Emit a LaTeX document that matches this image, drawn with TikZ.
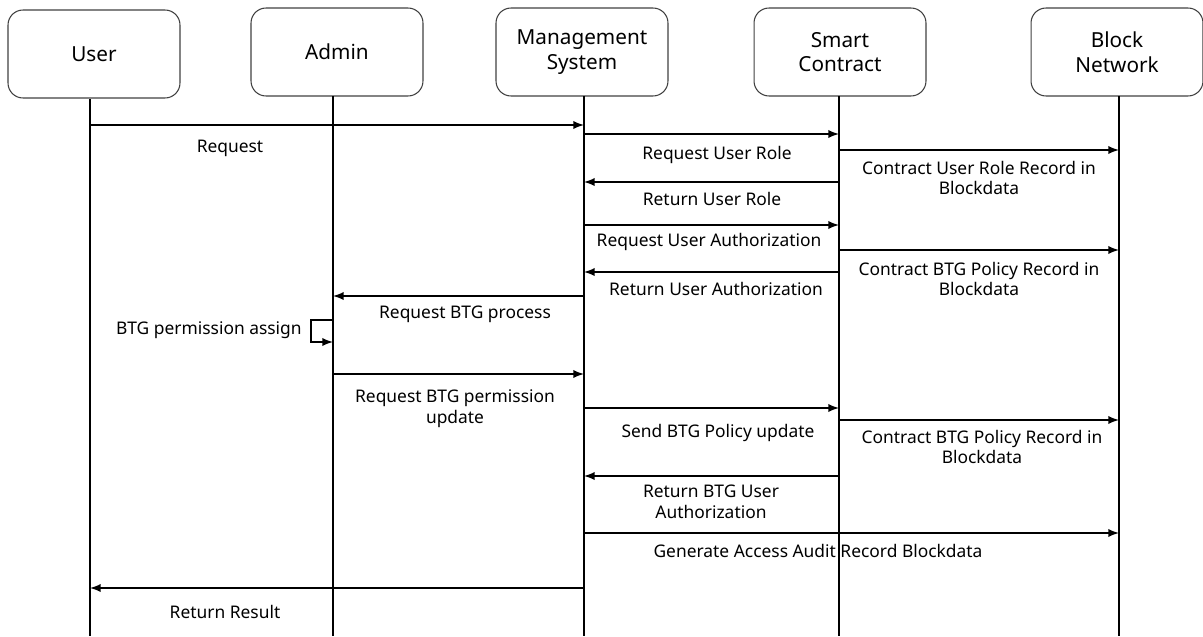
\documentclass[tikz,border=0pt]{standalone}
\usepackage{fontspec}
\setmainfont{Noto Sans}
\begin{document}
\begin{tikzpicture}[x=0.02cm, y=-0.02cm,
    actor/.style={draw=black!75, line width=0.6pt, rounded corners=0.3cm, minimum width=3.44cm, minimum height=1.76cm, align=center, font=\fontsize{11.8}{14}\selectfont},
    life/.style={line width=1.1pt},
    msg/.style={->, >=latex, line width=1.1pt},
    lbl/.style={align=center, font=\fontsize{9.9}{11.8}\selectfont, inner sep=0pt}]
    \useasboundingbox (0,0) rectangle (1203,636);

    % participants
    \node[actor] (u)  at (94,54)   {User};
    \node[actor] (ad) at (337,52)  {Admin};
    \node[actor] (ms) at (582,52)  {Management\\System};
    \node[actor] (sc) at (840,52)  {Smart\\Contract};
    \node[actor] (bn) at (1117,52) {Block\\Network};

    % lifelines
    \coordinate (uT) at (90,99);    \coordinate (uB) at (90,636);
    \coordinate (adT) at (333,96);  \coordinate (adB) at (333,636);
    \coordinate (msT) at (584,96);  \coordinate (msB) at (584,636);
    \coordinate (scT) at (839,96);  \coordinate (scB) at (839,636);
    \coordinate (bnT) at (1119,96); \coordinate (bnB) at (1119,636);
    \draw[life] (uT) -- (uB);
    \draw[life] (adT) -- (adB);
    \draw[life] (msT) -- (msB);
    \draw[life] (scT) -- (scB);
    \draw[life] (bnT) -- (bnB);

    % message rows
    \coordinate (r1) at (0,125);  \coordinate (r2) at (0,134);
    \coordinate (r3) at (0,150);  \coordinate (r4) at (0,182);
    \coordinate (r5) at (0,225);  \coordinate (r6) at (0,250);
    \coordinate (r7) at (0,272);  \coordinate (r8) at (0,296);
    \coordinate (r9) at (0,374);  \coordinate (r10) at (0,408);
    \coordinate (r11) at (0,420); \coordinate (r12) at (0,476);
    \coordinate (r13) at (0,533); \coordinate (r14) at (0,588);

    \draw[msg] (uT |- r1) -- (msT |- r1);
    \node[lbl] (t1) at (230,148) {Request};
    \draw[msg] (msT |- r2) -- (scT |- r2);
    \node[lbl] (t2) at (717,155) {Request User Role};
    \draw[msg] (scT |- r3) -- (bnT |- r3);
    \node[lbl] (t3) at (979,178) {Contract User Role Record in\\Blockdata};
    \draw[msg] (scT |- r4) -- (msT |- r4);
    \node[lbl] (t4) at (712,199) {Return User Role};
    \draw[msg] (msT |- r5) -- (scT |- r5);
    \node[lbl] (t5) at (709,242) {Request User Authorization};
    \draw[msg] (scT |- r6) -- (bnT |- r6);
    \node[lbl] (t6) at (979,279) {Contract BTG Policy Record in\\Blockdata};
    \draw[msg] (scT |- r7) -- (msT |- r7);
    \node[lbl] (t7) at (716,289) {Return User Authorization};
    \draw[msg] (msT |- r8) -- (adT |- r8);
    \node[lbl] (t8) at (465,314) {Request BTG process};

    % self call on admin
    \coordinate (sa) at (333,320); \coordinate (sb) at (311,320);
    \coordinate (sc2) at (311,342); \coordinate (sd) at (333,342);
    \draw[msg] (sa) -- (sb) -- (sc2) -- (sd);
    \node[lbl, anchor=east] (t9) at (302,330) {BTG permission assign};

    \draw[msg] (adT |- r9) -- (msT |- r9);
    \node[lbl] (t10) at (455,409) {Request BTG permission\\update};
    \draw[msg] (msT |- r10) -- (scT |- r10);
    \node[lbl] (t11) at (718,433) {Send BTG Policy update};
    \draw[msg] (scT |- r11) -- (bnT |- r11);
    \node[lbl] (t12) at (982,447) {Contract BTG Policy Record in\\Blockdata};
    \draw[msg] (scT |- r12) -- (msT |- r12);
    \node[lbl] (t13) at (711,502) {Return BTG User\\Authorization};
    \draw[msg] (msT |- r13) -- (bnT |- r13);
    \node[lbl] (t14) at (818,551) {Generate Access Audit Record Blockdata};
    \draw[msg] (msT |- r14) -- (uT |- r14);
    \node[lbl] (t15) at (225,612) {Return Result};
\end{tikzpicture}
\end{document}
